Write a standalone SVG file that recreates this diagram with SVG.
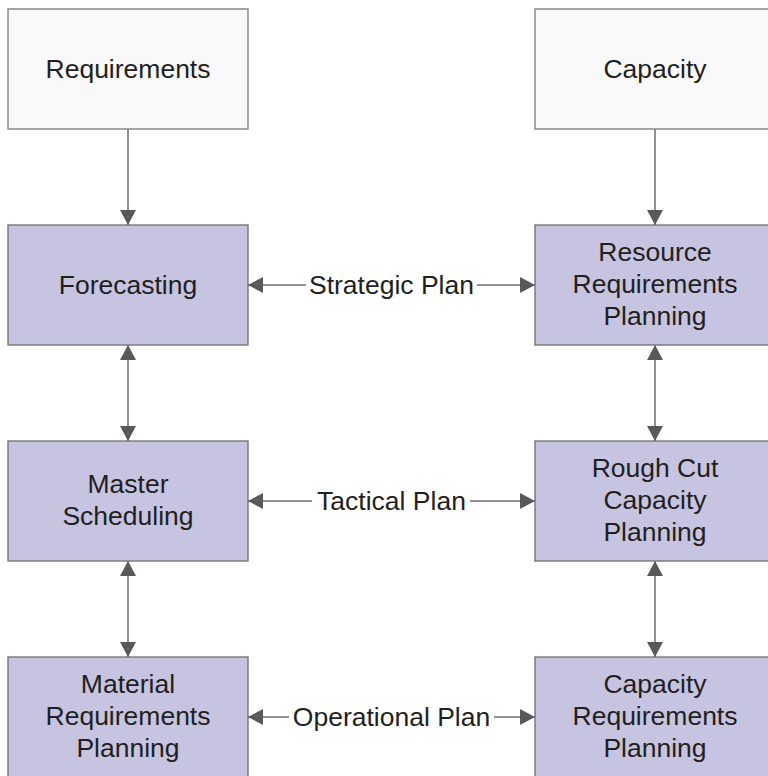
<svg xmlns="http://www.w3.org/2000/svg" width="768" height="776" viewBox="0 0 768 776">
<defs>
<marker id="ah" viewBox="0 0 15 16" refX="15" refY="8" markerWidth="15" markerHeight="16" markerUnits="userSpaceOnUse" orient="auto-start-reverse">
<path d="M0,0 L15,8 L0,16 Z" fill="#58595b"/>
</marker>
<style>
.top{fill:#f9f9f9;stroke:#77787b;stroke-width:1.3}
.box{fill:#c6c4e1;stroke:#6d6e71;stroke-width:1.3}
text{font-family:"Liberation Sans",Arial,sans-serif;font-size:26.5px;fill:#231f20;text-anchor:middle}
.c{stroke:#6d6e71;stroke-width:1.5;fill:none}
</style>
</defs>
<rect width="768" height="776" fill="#ffffff"/>
<g id="connectors">
<line class="c" x1="128" y1="129" x2="128" y2="225" marker-end="url(#ah)"/>
<line class="c" x1="655" y1="129" x2="655" y2="225" marker-end="url(#ah)"/>
<line class="c" x1="128" y1="345" x2="128" y2="441" marker-start="url(#ah)" marker-end="url(#ah)"/>
<line class="c" x1="128" y1="561" x2="128" y2="657" marker-start="url(#ah)" marker-end="url(#ah)"/>
<line class="c" x1="655" y1="345" x2="655" y2="441" marker-start="url(#ah)" marker-end="url(#ah)"/>
<line class="c" x1="655" y1="561" x2="655" y2="657" marker-start="url(#ah)" marker-end="url(#ah)"/>
<line class="c" x1="248" y1="285" x2="306" y2="285" marker-start="url(#ah)"/>
<line class="c" x1="477" y1="285" x2="535" y2="285" marker-end="url(#ah)"/>
<text x="391.5" y="294">Strategic Plan</text>
<line class="c" x1="248" y1="501" x2="312" y2="501" marker-start="url(#ah)"/>
<line class="c" x1="470" y1="501" x2="535" y2="501" marker-end="url(#ah)"/>
<text x="391.5" y="510">Tactical Plan</text>
<line class="c" x1="248" y1="717" x2="289" y2="717" marker-start="url(#ah)"/>
<line class="c" x1="494" y1="717" x2="535" y2="717" marker-end="url(#ah)"/>
<text x="391.5" y="726">Operational Plan</text>
</g>
<g id="requirements">
<rect class="top" x="8" y="9" width="240" height="120"/>
<text x="128" y="78">Requirements</text>
</g>
<g id="capacity">
<rect class="top" x="535" y="9" width="240" height="120"/>
<text x="655" y="78">Capacity</text>
</g>
<g id="forecasting">
<rect class="box" x="8" y="225" width="240" height="120"/>
<text x="128" y="294">Forecasting</text>
</g>
<g id="rrp">
<rect class="box" x="535" y="225" width="240" height="120"/>
<text x="655" y="261">Resource</text>
<text x="655" y="293">Requirements</text>
<text x="655" y="325">Planning</text>
</g>
<g id="master">
<rect class="box" x="8" y="441" width="240" height="120"/>
<text x="128" y="493">Master</text>
<text x="128" y="525">Scheduling</text>
</g>
<g id="rccp">
<rect class="box" x="535" y="441" width="240" height="120"/>
<text x="655" y="477">Rough Cut</text>
<text x="655" y="509">Capacity</text>
<text x="655" y="541">Planning</text>
</g>
<g id="mrp">
<rect class="box" x="8" y="657" width="240" height="120"/>
<text x="128" y="693">Material</text>
<text x="128" y="725">Requirements</text>
<text x="128" y="757">Planning</text>
</g>
<g id="crp">
<rect class="box" x="535" y="657" width="240" height="120"/>
<text x="655" y="693">Capacity</text>
<text x="655" y="725">Requirements</text>
<text x="655" y="757">Planning</text>
</g>
</svg>
